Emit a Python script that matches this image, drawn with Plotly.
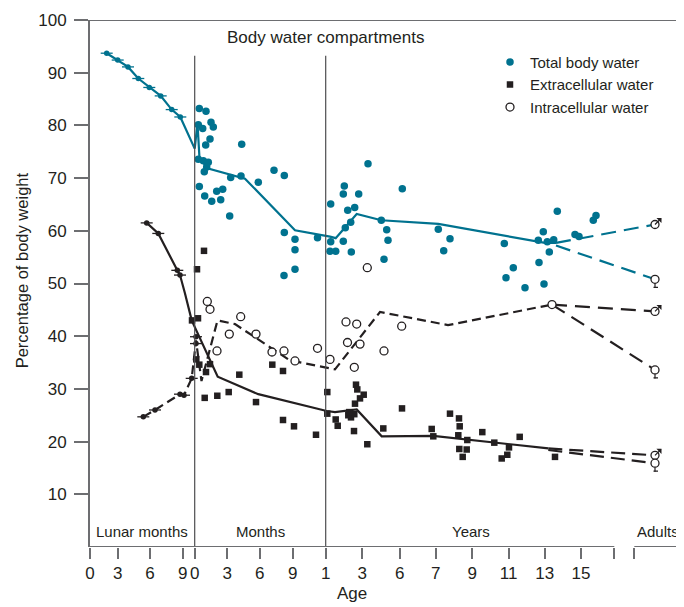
import plotly.graph_objects as go

TEAL = "#00728f"
INK = "#231f20"
AXIS = "#6d6e71"
FONT = "Liberation Sans, Arial, sans-serif"

# ---- axis definition (composite age axis, positions in axis units) ----
tick_vals = [90, 117.7, 150, 182.7, 194.7, 227.3, 259.7, 292.7, 325.7, 362.3, 399.7,
             435.7, 472.3, 508.7, 544.7, 581, 614.3, 634.3]
tick_text = ["0", "3", "6", "9", "0", "3", "6", "9", "1", "3", "6", "7", "9", "11", "13", "15", "", ""]
birth_pos = 194.7
one_year_pos = 325.7
axis_break = [614.3, 634.3]
axis_end = 684
section_labels = ["Lunar months", "Months", "Years", "Adults"]
section_pos = [142.3, 260, 470.5, 657.5]

# ---- Total body water ----
tbw_fetal_x = [106.7, 117.7, 128, 138.3, 149.3, 160.7, 171.7, 180.3]
tbw_fetal_y = [93.7, 92.4, 91.1, 88.9, 87.2, 85.6, 83.0, 81.6]
tbw_line_x = [106.7, 117.7, 128, 138.3, 149.3, 160.7, 171.7, 180.3, 194.7, 197.5, 199.5,
              208.3, 245, 295, 330, 335.7, 356.7, 381.3, 438.3, 545, 556]
tbw_line_y = [93.7, 92.4, 91.1, 88.9, 87.2, 85.6, 83.0, 81.6, 75.6, 80.4, 73.7,
              71.8, 69.9, 60.1, 58.9, 58.6, 63.2, 62.0, 61.3, 57.7, 57.7]
tbw_x = [199.3, 206, 198.3, 202.7, 211, 213.3, 210, 205.7, 241.7, 198.3, 203.3, 208.3, 206.7,
         204.3, 230.7, 241, 274, 284.3, 258.3, 199.3, 204.7, 211.7, 216.7, 222.7, 220.7, 229.7,
         284.3, 295, 295, 317.5, 295, 284, 330.7, 330.7, 330, 335.7, 343.3, 351.3, 345.3, 350.7,
         347.7, 354.7, 343.3, 344.3, 358.7, 368, 402.3, 381.3, 386.7, 388, 384, 438.3, 450, 443.7,
         504.3, 513.3, 506, 525, 544, 539, 549.3, 543.3, 538.3, 547.3, 553.7, 557.3, 575, 579,
         593.3, 596]
tbw_y = [83.2, 82.7, 80.1, 79.4, 80.6, 79.7, 77.4, 76.3, 76.4, 73.6, 73.3, 73.0, 72.1,
         71.2, 70.1, 70.4, 71.5, 70.5, 69.2, 68.4, 66.6, 65.6, 67.5, 67.9, 65.9, 62.8,
         59.7, 58.4, 56.4, 58.7, 52.7, 51.5, 65.1, 57.9, 56.1, 56.1, 58.0, 56.0, 60.6, 61.6,
         63.9, 64.4, 67.0, 68.5, 67.0, 72.7, 68.0, 62.0, 60.2, 58.2, 54.6, 60.3, 58.5, 56.2,
         57.6, 53.0, 51.1, 49.2, 49.9, 54.0, 56.0, 59.8, 58.2, 57.9, 58.3, 63.7, 59.3, 58.9,
         62.0, 62.9]
tbw_male_x = [556, 655]
tbw_male_y = [57.7, 61.2]
tbw_female_x = [556, 655]
tbw_female_y = [57.2, 50.8]

# ---- Extracellular water ----
ecw_fetal_x = [146.7, 158.3, 177.3, 180]
ecw_fetal_y = [61.5, 59.5, 52.5, 51.6]
ecw_line_x = [146.7, 158.3, 177.3, 180, 185, 191.7, 217.7, 258.3, 326.7, 335, 356.7,
              381.7, 433.3, 548.3]
ecw_line_y = [61.5, 59.5, 52.5, 51.6, 48.1, 43.0, 32.3, 29.0, 25.8, 25.6, 26.1,
              21.0, 21.1, 18.7]
ecw_x = [204, 197, 192, 198, 196.3, 199.3, 206, 210, 239.3, 272.3, 283, 204.7, 217.3, 228.7,
         256, 283, 294, 316, 327.3, 327.3, 337.7, 335.7, 348.3, 351, 354.3, 349.3, 355, 360,
         363.7, 356, 357.3, 354, 367.3, 383.3, 402, 431.7, 433.3, 450, 459, 459.7, 458.3,
         467.3, 459.3, 466.7, 462.7, 482.3, 494.3, 509, 507.3, 501.7, 519.7, 555]
ecw_y = [56.2, 52.7, 43.0, 43.4, 35.6, 34.6, 33.2, 34.7, 32.7, 34.6, 33.4, 28.3, 28.7, 29.4,
         27.5, 24.1, 22.9, 21.3, 29.4, 25.3, 23.0, 24.2, 25.0, 24.6, 25.2, 25.6, 27.2, 28.2,
         28.9, 30.8, 29.9, 22.0, 19.5, 22.5, 26.3, 22.4, 21.0, 25.3, 24.4, 22.9, 21.2,
         20.3, 18.6, 18.5, 17.1, 21.8, 19.8, 18.9, 17.5, 16.8, 20.9, 17.1]
ecw_male_x = [548.3, 655]
ecw_male_y = [18.7, 17.4]
ecw_female_x = [548.3, 655]
ecw_female_y = [18.4, 15.9]

# ---- Intracellular water ----
icw_fetal_x = [143.3, 155, 180, 184, 191.7, 196, 196]
icw_fetal_y = [24.7, 26.0, 29.0, 28.8, 32.0, 39.9, 38.6]
icw_line_x = [143.3, 155, 180, 184, 191.7, 196, 201.5, 217.5, 235, 290, 335, 380, 448, 552]
icw_line_y = [24.7, 26.0, 29.0, 28.8, 32.0, 39.2, 31.5, 43.0, 42.3, 35.4, 33.7, 44.6, 42.1, 46.0]
icw_x = [207.3, 210, 240.7, 229.3, 256, 217, 272, 284, 295, 317.5, 330, 346, 356.7, 401.7,
         347.5, 360, 384, 354.3, 367.3, 552]
icw_y = [46.6, 45.1, 43.7, 40.4, 40.4, 37.2, 37.0, 37.2, 35.3, 37.7, 35.6, 42.7, 42.3, 41.9,
         38.8, 38.5, 37.2, 34.1, 53.0, 46.0]
icw_male_x = [552, 655]
icw_male_y = [46.0, 44.7]
icw_female_x = [552, 655]
icw_female_y = [46.0, 33.6]

adult_male_x = [655, 655, 655]
adult_male_y = [tbw_male_y[-1], icw_male_y[-1], ecw_male_y[-1]]
adult_female_x = [655, 655, 655]
adult_female_y = [tbw_female_y[-1], icw_female_y[-1], ecw_female_y[-1]]

fig = go.Figure()

def line(x, y, color, dash="solid", width=2.2):
    fig.add_trace(go.Scatter(x=x, y=y, mode="lines", showlegend=False, hoverinfo="skip",
                             line=dict(color=color, width=width, dash=dash)))

# lines
line(tbw_line_x, tbw_line_y, TEAL)
line(tbw_male_x, tbw_male_y, TEAL, "15px,8px")
line(tbw_female_x, tbw_female_y, TEAL, "15px,8px")
line(ecw_line_x, ecw_line_y, INK)
line(ecw_male_x, ecw_male_y, INK, "14px,7px")
line(ecw_female_x, ecw_female_y, INK, "14px,7px")
line(icw_line_x, icw_line_y, INK, "9px,5px")
line(icw_male_x, icw_male_y, INK, "15px,8px")
line(icw_female_x, icw_female_y, INK, "15px,8px")

# fetal means with error bars
def fetal(x, y, color):
    fig.add_trace(go.Scatter(x=x, y=y, mode="markers", showlegend=False,
                             marker=dict(color=color, size=5.5),
                             error_x=dict(type="constant", value=6, color=color,
                                          thickness=1.3, width=0)))
fetal(tbw_fetal_x, tbw_fetal_y, TEAL)
fetal(ecw_fetal_x, ecw_fetal_y, INK)
fetal(icw_fetal_x, icw_fetal_y, INK)

# individual measurements
fig.add_trace(go.Scatter(x=tbw_x, y=tbw_y, mode="markers", name="Total body water",
                         marker=dict(color=TEAL, size=7.5, symbol="circle")))
fig.add_trace(go.Scatter(x=ecw_x, y=ecw_y, mode="markers", name="Extracellular water",
                         marker=dict(color=INK, size=6.5, symbol="square")))
fig.add_trace(go.Scatter(x=icw_x, y=icw_y, mode="markers", name="Intracellular water",
                         marker=dict(color="white", size=8, symbol="circle",
                                     line=dict(color=INK, width=1.3))))
fig.add_trace(go.Scatter(x=adult_male_x + adult_female_x, y=adult_male_y + adult_female_y,
                         mode="markers", showlegend=False,
                         marker=dict(color="white", size=8, symbol="circle",
                                     line=dict(color=INK, width=1.3))))

# gender marks
anns = []
for xv, yv in zip(adult_male_x, adult_male_y):
    anns.append(dict(x=xv, y=yv, xref="x", yref="y", text="", showarrow=True,
                     ax=8, ay=-8, arrowside="start", arrowhead=2, arrowsize=0.5,
                     arrowwidth=1.2, arrowcolor=INK, standoff=0, startstandoff=0))
for xv, yv in zip(adult_female_x, adult_female_y):
    anns.append(dict(x=xv, y=yv, xref="x", yref="y", text="", showarrow=True,
                     ax=0, ay=10, arrowhead=0, arrowwidth=1.2, arrowcolor=INK,
                     standoff=4, startstandoff=0))
    anns.append(dict(x=xv, y=yv, xref="x", yref="y", text="", showarrow=True,
                     xshift=3, yshift=-8, ax=-6, ay=0, arrowhead=0, arrowwidth=1.2,
                     arrowcolor=INK, standoff=0))

# texts
anns.append(dict(x=one_year_pos, y=96.6, xref="x", yref="y", text="Body water compartments",
                 showarrow=False, xanchor="center", yanchor="middle",
                 font=dict(size=17, color=INK, family=FONT)))
for lab, xp in zip(section_labels, section_pos):
    anns.append(dict(x=xp, y=2.9, xref="x", yref="y", text=lab, showarrow=False,
                     xanchor="center", yanchor="middle",
                     font=dict(size=15, color=INK, family=FONT)))
anns.append(dict(x=-0.1145, y=0.525, xref="paper", yref="paper",
                 text="Percentage of body weight", textangle=-90, showarrow=False,
                 xanchor="center", yanchor="middle",
                 font=dict(size=16.5, color=INK, family=FONT)))
anns.append(dict(x=352, y=-0.088, xref="x", yref="paper", text="Age", showarrow=False,
                 xanchor="center", yanchor="middle",
                 font=dict(size=17, color=INK, family=FONT)))

shapes = []
for xp in [birth_pos, one_year_pos]:
    shapes.append(dict(type="line", xref="x", yref="y", x0=xp, x1=xp, y0=0, y1=93.2,
                       line=dict(color="#4d4d4f", width=1.2)))
shapes.append(dict(type="line", xref="x", yref="y", x0=tick_vals[0], x1=axis_break[0],
                   y0=0, y1=0, line=dict(color=AXIS, width=2)))
shapes.append(dict(type="line", xref="x", yref="y", x0=axis_break[1], x1=axis_end,
                   y0=0, y1=0, line=dict(color=AXIS, width=2)))
shapes.append(dict(type="line", xref="x", yref="y", x0=tick_vals[0], x1=axis_end,
                   y0=100, y1=100, line=dict(color=AXIS, width=2)))

# page body has an 8px default margin; figure sized/offset to compensate
fig.update_layout(
    width=676, height=599,
    margin=dict(l=82, r=0, t=12, b=60.3, autoexpand=False),
    plot_bgcolor="white", paper_bgcolor="white",
    font=dict(family=FONT, color=INK, size=17),
    showlegend=True,
    legend=dict(x=0.6734, y=0.951, xanchor="left", yanchor="top",
                font=dict(size=15, color=INK, family=FONT),
                bgcolor="rgba(0,0,0,0)", tracegroupgap=0, itemwidth=30),
    annotations=anns, shapes=shapes,
)
fig.update_xaxes(range=[tick_vals[0], axis_end], tickmode="array", tickvals=tick_vals,
                 ticktext=tick_text, tickangle=0,
                 ticks="outside", ticklen=11, tickwidth=1.5, tickcolor=AXIS,
                 showline=False, showgrid=False, zeroline=False,
                 tickfont=dict(size=17, color=INK, family=FONT))
fig.update_yaxes(range=[0, 100], tickmode="array", tickvals=list(range(10, 101, 10)),
                 ticks="outside", ticklen=14, tickwidth=1.5, tickcolor=AXIS,
                 showline=True, linecolor=AXIS, linewidth=2,
                 showgrid=False, zeroline=False, ticklabelstandoff=4,
                 tickfont=dict(size=17, color=INK, family=FONT))

fig.write_html("out.html")
